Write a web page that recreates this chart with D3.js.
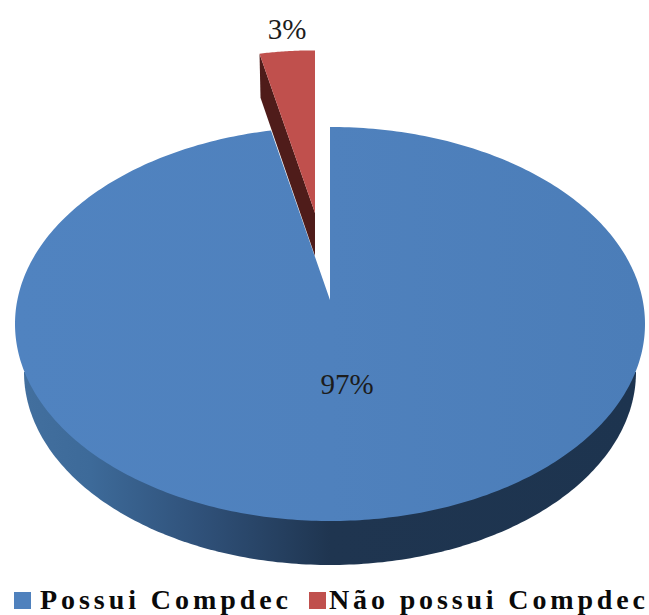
<!DOCTYPE html>
<html><head><meta charset="utf-8">
<script src="https://cdn.jsdelivr.net/npm/d3@7/dist/d3.min.js"></script>
<style>html,body{margin:0;padding:0;background:#fff}svg{display:block}</style>
</head><body><svg id="c" width="649" height="615"></svg>
<script>
const categories = ["Possui Compdec", "Não possui Compdec"];
const values = [97, 3];
const labels = ["97%", "3%"];
const topColors = ["#4f81bd", "#c0504d"];

const W = 649, H = 615;
const svg = d3.select("#c").attr("viewBox", [0, 0, W, H]);
const defs = svg.append("defs");

// Pie layout: starts at 12 o'clock, first slice runs clockwise.
const arcs = d3.pie().sort(null).value(d => d)(values);
const blue = arcs[0], red = arcs[1];

// Projection of the tilted pie: unit disc -> screen, with a shifted apex for perspective.
const sx = d3.scaleLinear().domain([-1, 1]).range([15, 645]);
const sy = d3.scaleLinear().domain([-1, 1]).range([127, 521]);
const lowX = d3.scaleLinear().domain([-1, 1]).range([24, 636]);
const lowY = d3.scaleLinear().domain([-1, 1]).range([179, 565]);
const apex = {x: sx(0), y: 300};

const rim = (a, fx = sx, fy = sy) => [fx(Math.sin(a)), fy(-Math.cos(a))];
const sweep = (a0, a1, n = 200) => d3.range(n + 1).map(i => a0 + (a1 - a0) * i / n);
const line = d3.line();

// Exploded slice: scaled about the apex and pulled outward along the slice.
const pull = {x: -15, y: -87, k: 0.94};
const out = ([x, y]) => [apex.x + pull.x + (x - apex.x) * pull.k, apex.y + pull.y + (y - apex.y) * pull.k];
const thick = 43;

// gradients
const gSide = defs.append("linearGradient").attr("id", "gSide").attr("gradientUnits", "userSpaceOnUse")
  .attr("x1", 15).attr("x2", 645).attr("y1", 0).attr("y2", 0);
[[0, "#43709f"], [0.12, "#3d6a99"], [0.3, "#2f5078"], [0.5, "#1f3550"], [1, "#1d344f"]]
  .forEach(([o, c]) => gSide.append("stop").attr("offset", o).attr("stop-color", c));
const gTop = defs.append("linearGradient").attr("id", "gTop").attr("gradientUnits", "userSpaceOnUse")
  .attr("x1", 15).attr("x2", 645).attr("y1", 0).attr("y2", 0);
[[0, "#5083c0"], [0.5, "#4f81bd"], [1, "#4b7db8"]]
  .forEach(([o, c]) => gTop.append("stop").attr("offset", o).attr("stop-color", c));

// Blue side wall (lower half of the base ellipse)
svg.append("path")
  .attr("d", line(sweep(Math.PI / 2, 3 * Math.PI / 2).map(a => rim(a, lowX, lowY))) + "Z")
  .attr("fill", "url(#gSide)");

// Blue top face
svg.append("path")
  .attr("d", line([[apex.x, apex.y], ...sweep(blue.startAngle, blue.endAngle, 400).map(a => rim(a))]) + "Z")
  .attr("fill", "url(#gTop)");

// Red slice: dark inner wall then top face
const redA = out(rim(red.startAngle));
const redTip = out([apex.x, apex.y]);
svg.append("path")
  .attr("d", line([redA, [redA[0] + 1, redA[1] + 44], [redTip[0], redTip[1] + thick], redTip]) + "Z")
  .attr("fill", "#4f1c1a");
svg.append("path")
  .attr("d", line([redTip, ...sweep(red.startAngle, red.endAngle, 30).map(a => out(rim(a)))]) + "Z")
  .attr("fill", topColors[1]);

// Data labels
const labelPos = [[347, 394], [287, 39]];
svg.selectAll("text.lab").data(labels).join("text").attr("class", "lab")
  .attr("x", (d, i) => labelPos[i][0]).attr("y", (d, i) => labelPos[i][1])
  .attr("text-anchor", "middle")
  .attr("font-family", "'Liberation Serif', serif").attr("font-size", 29)
  .attr("fill", "#1c1c1c").text(d => d);

// Legend
const legendX = [14, 309], textX = [40, 329], textW = [248, 316];
const lg = svg.selectAll("g.lg").data(categories).join("g").attr("class", "lg");
lg.append("rect").attr("x", (d, i) => legendX[i]).attr("y", 592).attr("width", 17).attr("height", 17)
  .attr("fill", (d, i) => topColors[i]);
lg.append("text").attr("x", (d, i) => textX[i]).attr("y", 609)
  .attr("font-family", "'Liberation Serif', serif").attr("font-weight", "bold").attr("font-size", 28)
  .attr("textLength", (d, i) => textW[i]).attr("lengthAdjust", "spacing")
  .attr("fill", "#0a0a0a").text(d => d);
</script></body></html>
